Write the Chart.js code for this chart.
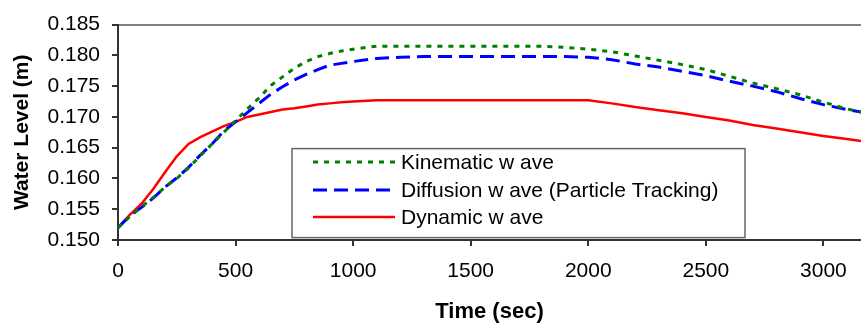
<!DOCTYPE html>
<html>
<head>
<meta charset="utf-8">
<script src="https://cdn.jsdelivr.net/npm/chart.js@4.4.1/dist/chart.umd.min.js"></script>
<style>
  html, body { margin: 0; padding: 0; background: #fff; }
  canvas { display: block; }
</style>
</head>
<body>
<canvas id="chart" width="861" height="329"></canvas>
<script>
// time axis (sec)
const timeSec = [0, 50, 100, 150, 200, 250, 300, 350, 400, 450, 500, 550, 600, 650, 700, 750, 800, 850, 900, 950, 1000,
  1100, 1200, 1300, 1400, 1500, 1600, 1700, 1800, 1900, 2000, 2100, 2200, 2300, 2400, 2500, 2600, 2700, 2800, 2900, 3000, 3100, 3160];

// water level (m) per model
const kinematicWave = [0.1520, 0.1538, 0.1554, 0.1569, 0.1586, 0.1600, 0.1617, 0.1637, 0.1656, 0.1675, 0.1694, 0.1713, 0.1731, 0.1751, 0.1765, 0.1779, 0.1790, 0.1798, 0.1803, 0.1807, 0.1810,
  0.1815, 0.1815, 0.1815, 0.1815, 0.1815, 0.1815, 0.1815, 0.1815, 0.1813, 0.1810, 0.1806, 0.1799, 0.1792, 0.1785, 0.1777, 0.1766, 0.1755, 0.1746, 0.1736, 0.1724, 0.1713, 0.1708];

const diffusionWave = [0.1520, 0.1539, 0.1553, 0.1568, 0.1586, 0.1601, 0.1618, 0.1638, 0.1656, 0.1677, 0.1692, 0.1707, 0.1722, 0.1737, 0.1749, 0.1760, 0.1769, 0.1777, 0.1784, 0.1787, 0.1790,
  0.1795, 0.1797, 0.1798, 0.1798, 0.1798, 0.1798, 0.1798, 0.1798, 0.1798, 0.1797, 0.1793, 0.1786, 0.1781, 0.1774, 0.1767, 0.1758, 0.1750, 0.1741, 0.1730, 0.1720, 0.1712, 0.1708];

const dynamicWave = [0.1520, 0.1541, 0.1559, 0.1583, 0.1610, 0.1636, 0.1656, 0.1667, 0.1676, 0.1685, 0.1692, 0.1700, 0.1704, 0.1708, 0.1712, 0.1714, 0.1717, 0.1720, 0.1722, 0.1724, 0.1725,
  0.1727, 0.1727, 0.1727, 0.1727, 0.1727, 0.1727, 0.1727, 0.1727, 0.1727, 0.1727, 0.1722, 0.1716, 0.1711, 0.1706, 0.1700, 0.1694, 0.1687, 0.1681, 0.1675, 0.1669, 0.1664, 0.1661];

const seriesLabels = ["Kinematic w ave", "Diffusion w ave (Particle Tracking)", "Dynamic w ave"];
const yTicks = [0.150, 0.155, 0.160, 0.165, 0.170, 0.175, 0.180, 0.185];
const xTicks = [0, 500, 1000, 1500, 2000, 2500, 3000];

const FONT = "'Liberation Sans', Arial, sans-serif";
const AXIS = "#333333";

function toPoints(vals) {
  return timeSec.map((t, i) => ({ x: t, y: vals[i] }));
}

// legend drawn inside the plot, as in the original Excel chart
const boxLegend = {
  id: "boxLegend",
  afterDraw(chart) {
    const ctx = chart.ctx;
    const ca = chart.chartArea;
    const left = ca.left + 174, top = ca.top + 124, w = 453, h = 89;
    ctx.save();
    ctx.fillStyle = "#fff";
    ctx.fillRect(left, top, w, h);
    ctx.strokeStyle = "#666";
    ctx.lineWidth = 1.5;
    ctx.strokeRect(left, top, w, h);
    const rows = [13.5, 41.5, 68.5];
    chart.data.datasets.forEach((ds, i) => {
      const y = top + rows[i];
      ctx.beginPath();
      ctx.strokeStyle = ds.borderColor;
      ctx.lineWidth = ds.borderWidth;
      ctx.setLineDash(ds.borderDash || []);
      ctx.moveTo(left + 21, y);
      ctx.lineTo(left + 103, y);
      ctx.stroke();
      ctx.setLineDash([]);
      ctx.fillStyle = "#000";
      ctx.font = "21px " + FONT;
      ctx.textBaseline = "middle";
      ctx.fillText(ds.label, left + 109, y + 1);
    });
    ctx.restore();
  }
};

new Chart(document.getElementById("chart").getContext("2d"), {
  type: "line",
  data: {
    datasets: [
      {
        label: seriesLabels[0],
        data: toPoints(kinematicWave),
        borderColor: "#008000",
        borderWidth: 3,
        borderDash: [5, 6],
        pointRadius: 0,
        tension: 0,
        fill: false
      },
      {
        label: seriesLabels[1],
        data: toPoints(diffusionWave),
        borderColor: "#0000ff",
        borderWidth: 3,
        borderDash: [14, 7],
        pointRadius: 0,
        tension: 0,
        fill: false
      },
      {
        label: seriesLabels[2],
        data: toPoints(dynamicWave),
        borderColor: "#ff0000",
        borderWidth: 2.5,
        pointRadius: 0,
        tension: 0,
        fill: false
      }
    ]
  },
  options: {
    responsive: false,
    animation: false,
    layout: { padding: { top: 19, left: 0, right: 0, bottom: 0 } },
    plugins: {
      legend: { display: false },
      tooltip: { enabled: false }
    },
    scales: {
      x: {
        type: "linear",
        position: "bottom",
        min: 0,
        max: 3160,
        afterBuildTicks: (scale) => { scale.ticks = xTicks.map(v => ({ value: v })); },
        afterFit: (scale) => { scale.height = 89; },
        ticks: {
          color: "#000",
          font: { family: FONT, size: 21 },
          padding: 13,
          maxRotation: 0,
          includeBounds: false,
          callback: (v) => String(v)
        },
        grid: { drawOnChartArea: false, drawTicks: true, tickLength: 6, color: AXIS, lineWidth: 2 },
        border: { color: AXIS, width: 2 },
        title: {
          display: true,
          text: "Time (sec)",
          color: "#000",
          font: { family: FONT, size: 22, weight: "bold" },
          padding: { top: 0, bottom: 4 }
        }
      },
      xTop: {
        type: "linear",
        position: "top",
        min: 0,
        max: 3160,
        afterFit: (scale) => { scale.height = 0; },
        ticks: { display: false },
        grid: { display: false },
        border: { color: "#808080", width: 2 }
      },
      y: {
        min: 0.150,
        max: 0.185,
        afterBuildTicks: (scale) => { scale.ticks = yTicks.map(v => ({ value: v })); },
        afterFit: (scale) => { scale.width = 118; },
        ticks: {
          color: "#000",
          font: { family: FONT, size: 21 },
          padding: 12,
          callback: (v) => Number(v).toFixed(3)
        },
        grid: { drawOnChartArea: false, drawTicks: true, tickLength: 6, color: AXIS, lineWidth: 2 },
        border: { color: AXIS, width: 2 },
        title: {
          display: true,
          text: "Water Level (m)",
          color: "#000",
          font: { family: FONT, size: 21, weight: "bold" },
          padding: { top: 10, bottom: 0 }
        }
      }
    }
  },
  plugins: [boxLegend]
});
</script>
</body>
</html>
